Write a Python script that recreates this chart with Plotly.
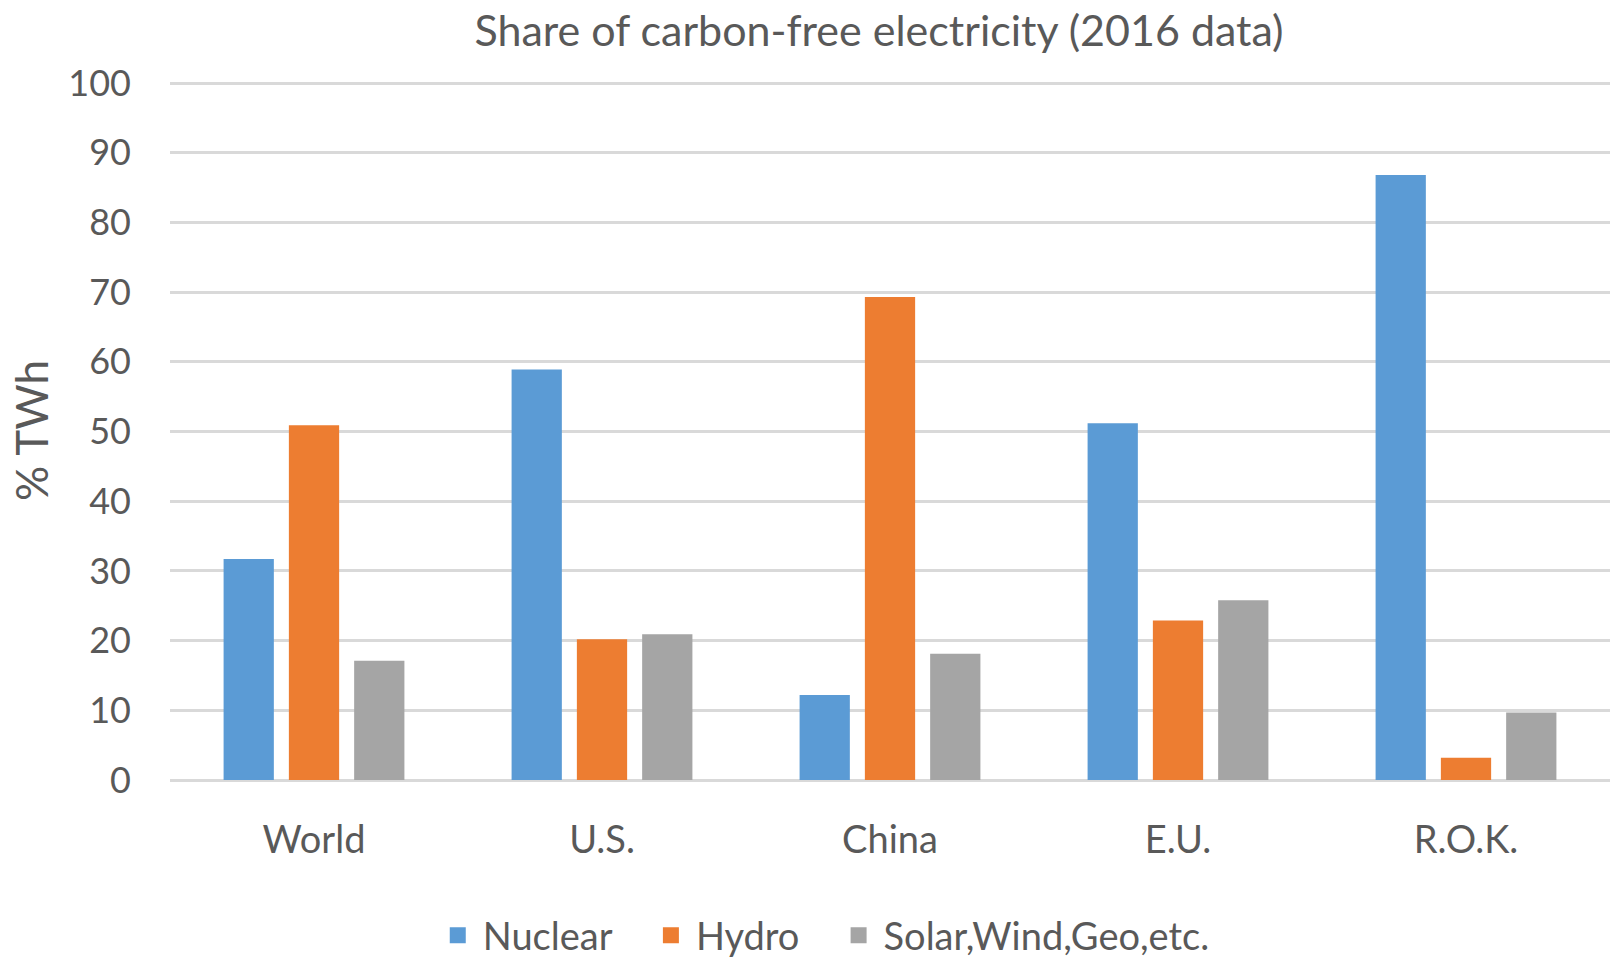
import plotly.graph_objects as go

categories = ["World", "U.S.", "China", "E.U.", "R.O.K."]
nuclear = [31.7, 58.9, 12.2, 51.2, 86.8]
hydro = [50.9, 20.2, 69.3, 22.9, 3.2]
solar = [17.1, 20.9, 18.1, 25.8, 9.7]
series_names = ["Nuclear", "Hydro", "Solar,Wind,Geo,etc."]
colors = ["#5B9BD5", "#ED7D31", "#A5A5A5"]
y_ticks = list(range(0, 101, 10))

FONT = "Lato"
TXT = "#595959"

fig = go.Figure()
for name, vals, col in zip(series_names, [nuclear, hydro, solar], colors):
    fig.add_trace(go.Bar(name=name, x=categories, y=vals, marker_color=col,
                         marker_line_width=0, showlegend=False))
# legend entries with larger square swatches
pads = ["\u00a0\u00a0\u00a0", "\u00a0\u00a0\u00a0", ""]
for name, col, pad in zip(series_names, colors, pads):
    fig.add_trace(go.Scatter(name=name + pad, x=[None], y=[None], mode="markers",
                             marker=dict(symbol="square", size=23, color=col),
                             showlegend=True))

fig.update_layout(
    width=1610, height=959,
    margin=dict(l=170, r=0, t=82, b=179, autoexpand=False),
    paper_bgcolor="white", plot_bgcolor="white",
    barmode="group", bargap=0.32, bargroupgap=0.23,
    font=dict(family=FONT, color=TXT, size=36),
    title=dict(text="Share of carbon-free electricity (2016 data)",
               x=0.546, xanchor="center", y=0.968, yanchor="middle",
               font=dict(family=FONT, size=43, color=TXT)),
    legend=dict(orientation="h", x=0.454, xanchor="center", y=-0.223, yanchor="middle",
                font=dict(family=FONT, size=38, color=TXT), itemwidth=40,
                traceorder="normal"),
    showlegend=True,
)
fig.update_yaxes(range=[0, 100.15], tickvals=y_ticks, showgrid=True, gridcolor="#D9D9D9",
                 gridwidth=3, zeroline=True, zerolinecolor="#D9D9D9", zerolinewidth=3,
                 showline=False, ticklabelstandoff=38, automargin=False,
                 tickfont=dict(size=36, color=TXT, family=FONT))
fig.update_xaxes(showgrid=False, showline=False, ticklabelstandoff=34, automargin=False,
                 tickfont=dict(size=38, color=TXT, family=FONT))
fig.add_annotation(text="% TWh", textangle=-90, xref="paper", yref="paper",
                   x=-0.0965, y=0.5, xanchor="center", yanchor="middle", showarrow=False,
                   font=dict(family=FONT, size=44, color=TXT))

fig.write_html("out.html", config={"displayModeBar": False},
               post_script="document.body.style.margin='0';document.body.style.overflow='hidden';")
